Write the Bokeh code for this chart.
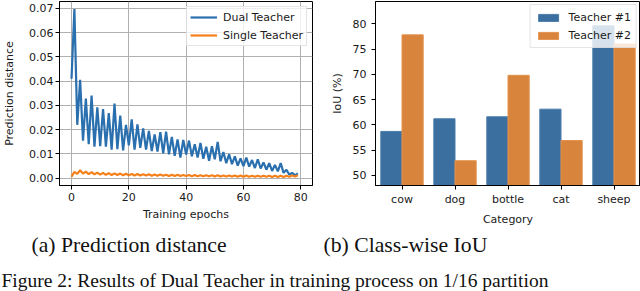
from bokeh.plotting import figure
from bokeh.models import (ColumnDataSource, FixedTicker, NumeralTickFormatter, Range1d,
                          FactorRange, Label)
from bokeh.layouts import column, row
from bokeh.transform import dodge
from bokeh.embed import file_html
from bokeh.resources import INLINE

# ---------------- data ----------------
epochs = list(range(80))
dual_teacher = [
    0.0410, 0.0697, 0.0220, 0.0405, 0.0155, 0.0328, 0.0140, 0.0340, 0.0130, 0.0292,
    0.0132, 0.0285, 0.0130, 0.0268, 0.0118, 0.0308, 0.0120, 0.0258, 0.0115, 0.0220,
    0.0135, 0.0242, 0.0118, 0.0222, 0.0125, 0.0205, 0.0118, 0.0195, 0.0112, 0.0180,
    0.0110, 0.0190, 0.0102, 0.0192, 0.0098, 0.0170, 0.0092, 0.0160, 0.0085, 0.0158,
    0.0098, 0.0155, 0.0090, 0.0140, 0.0085, 0.0145, 0.0080, 0.0130, 0.0072, 0.0132,
    0.0078, 0.0150, 0.0070, 0.0108, 0.0062, 0.0098, 0.0058, 0.0090, 0.0052, 0.0082,
    0.0050, 0.0085, 0.0048, 0.0075, 0.0042, 0.0078, 0.0040, 0.0065, 0.0035, 0.0062,
    0.0030, 0.0055, 0.0028, 0.0062, 0.0022, 0.0035, 0.0015, 0.0022, 0.0012, 0.0020,
]
single_teacher = [
    0.0006, 0.0026, 0.0018, 0.0033, 0.0019, 0.0027, 0.0017, 0.0025, 0.0016, 0.0023,
    0.0015, 0.0022, 0.0014, 0.0021, 0.0013, 0.0020, 0.0013, 0.0019, 0.0012, 0.0018,
    0.0012, 0.0017, 0.0011, 0.0017, 0.0011, 0.0016, 0.0011, 0.0016, 0.0010, 0.0015,
    0.0010, 0.0015, 0.0010, 0.0014, 0.0009, 0.0014, 0.0009, 0.0014, 0.0009, 0.0013,
    0.0009, 0.0013, 0.0008, 0.0013, 0.0008, 0.0012, 0.0008, 0.0012, 0.0008, 0.0012,
    0.0007, 0.0012, 0.0007, 0.0011, 0.0007, 0.0011, 0.0007, 0.0011, 0.0006, 0.0011,
    0.0006, 0.0011, 0.0006, 0.0010, 0.0006, 0.0010, 0.0006, 0.0010, 0.0006, 0.0010,
    0.0005, 0.0010, 0.0005, 0.0010, 0.0005, 0.0010, 0.0006, 0.0011, 0.0007, 0.0012,
]
x_ticks = [0, 20, 40, 60, 80]
y_ticks_left = [0.00, 0.01, 0.02, 0.03, 0.04, 0.05, 0.06, 0.07]

categories = ["cow", "dog", "bottle", "cat", "sheep"]
teacher1 = [58.7, 61.2, 61.6, 63.1, 79.6]
teacher2 = [77.8, 52.9, 69.8, 56.9, 76.0]
y_ticks_right = [50, 55, 60, 65, 70, 75, 80]

caption_a = "(a) Prediction distance"
caption_b = "(b) Class-wise IoU"
caption_fig = "Figure 2: Results of Dual Teacher in training process on 1/16 partition"

FONT = "DejaVu Sans"
SERIF = "Liberation Serif"
TXT = "#1a1a1a"


def style_axes(p):
    for ax in (p.xaxis[0], p.yaxis[0]):
        ax.axis_line_color = "black"
        ax.major_tick_line_color = "black"
        ax.major_tick_out = 4
        ax.major_tick_in = 0
        ax.minor_tick_line_color = None
        ax.major_label_text_font = FONT
        ax.major_label_text_font_size = "11px"
        ax.major_label_text_color = TXT
        ax.axis_label_text_font = FONT
        ax.axis_label_text_font_size = "11px"
        ax.axis_label_text_font_style = "normal"
        ax.axis_label_text_color = TXT
    p.outline_line_color = "black"
    p.outline_line_alpha = 1.0
    p.background_fill_color = "white"
    p.border_fill_color = "white"


# ---------------- left: prediction distance ----------------
p1 = figure(width=320, height=228, output_backend="svg", toolbar_location=None,
            x_range=Range1d(-4.2, 84.1), y_range=Range1d(-0.003, 0.0728),
            min_border_left=56, min_border_right=8, min_border_top=1, min_border_bottom=42)
src1 = ColumnDataSource(dict(epoch=epochs, dual=dual_teacher, single=single_teacher))
p1.line("epoch", "dual", source=src1, line_color="#2a6fae", line_width=2.2, legend_label="Dual Teacher")
p1.line("epoch", "single", source=src1, line_color="#f5801a", line_width=2.2, legend_label="Single Teacher")
style_axes(p1)
p1.xaxis.ticker = FixedTicker(ticks=x_ticks)
p1.yaxis.ticker = FixedTicker(ticks=y_ticks_left)
p1.yaxis.formatter = NumeralTickFormatter(format="0.00")
p1.xaxis.axis_label = "Training epochs"
p1.yaxis.axis_label = "Prediction distance"
p1.xaxis.major_label_standoff = 3
p1.xaxis.axis_label_standoff = 4
p1.yaxis.major_label_standoff = 2
p1.yaxis.axis_label_standoff = 10
p1.grid.grid_line_color = "#b0b0b0"
p1.grid.grid_line_width = 1
p1.grid.grid_line_alpha = 1.0
lg1 = p1.legend[0]
lg1.location = "top_right"
lg1.label_text_font = FONT
lg1.label_text_font_size = "11px"
lg1.label_text_color = TXT
lg1.glyph_width = 27
lg1.glyph_height = 14
lg1.label_height = 14
lg1.label_standoff = 6
lg1.spacing = 4
lg1.padding = 3
lg1.margin = 5
lg1.border_line_color = "#cccccc"
lg1.background_fill_alpha = 0.8

# ---------------- right: class-wise IoU ----------------
p2 = figure(width=320, height=228, output_backend="svg", toolbar_location=None,
            x_range=FactorRange(*categories), y_range=Range1d(48.0, 84.4),
            min_border_left=55, min_border_right=0, min_border_top=1, min_border_bottom=41)
src2 = ColumnDataSource(dict(cat=categories, t1=teacher1, t2=teacher2))
p2.vbar(x=dodge("cat", -0.2, range=p2.x_range), top="t1", bottom=0, width=0.4, source=src2,
        fill_color="#3a6f9f", line_color="#4a7cab", line_width=1, legend_label="Teacher #1")
p2.vbar(x=dodge("cat", 0.2, range=p2.x_range), top="t2", bottom=0, width=0.4, source=src2,
        fill_color="#d9843c", line_color="#e3914c", line_width=1, legend_label="Teacher #2")
style_axes(p2)
p2.yaxis.ticker = FixedTicker(ticks=y_ticks_right)
p2.xaxis.axis_label = "Category"
p2.yaxis.axis_label = "IoU (%)"
p2.xaxis.major_label_standoff = 3
p2.xaxis.axis_label_standoff = 4
p2.yaxis.major_label_standoff = 5
p2.yaxis.axis_label_standoff = 6
p2.grid.grid_line_color = None
lg2 = p2.legend[0]
lg2.location = "top_right"
lg2.label_text_font = FONT
lg2.label_text_font_size = "11px"
lg2.label_text_color = TXT
lg2.glyph_width = 25
lg2.glyph_height = 9
lg2.label_height = 14
lg2.label_standoff = 8
lg2.spacing = 4
lg2.padding = 5
lg2.margin = 3
lg2.border_line_color = "#cccccc"
lg2.background_fill_alpha = 0.8

# ---------------- captions ----------------
cap = figure(width=640, height=63, output_backend="svg", toolbar_location=None,
             x_range=Range1d(0, 640), y_range=Range1d(0, 63),
             min_border=0, outline_line_color=None)
cap.axis.visible = False
cap.grid.visible = False
for txt, x, y, size in [(caption_a, 31, 47, "21.7px"), (caption_b, 323, 47, "21.7px"),
                        (caption_fig, 1, 11, "19.5px")]:
    cap.add_layout(Label(x=x, y=y, x_units="screen", y_units="screen", text=txt,
                         text_font=SERIF, text_font_size=size, text_color="#111111",
                         text_baseline="alphabetic", text_align="left"))

layout = column(row(p1, p2), cap,
                styles={"position": "absolute", "left": "0px", "top": "0px"})

open("out.html", "w").write(file_html(layout, INLINE))
